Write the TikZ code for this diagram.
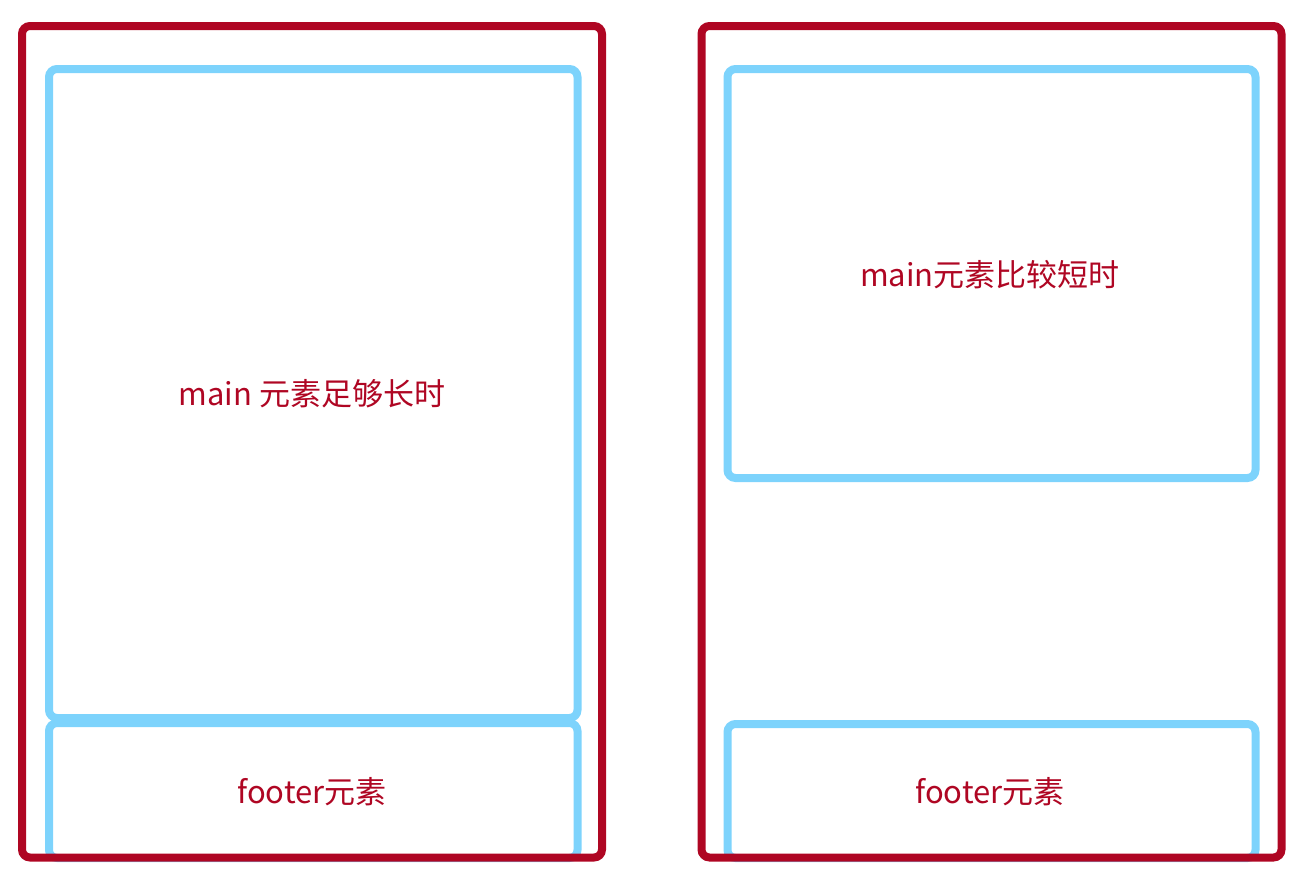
\documentclass[tikz,border=0pt]{standalone}
\usepackage{fontspec}
\setmainfont{Noto Sans CJK SC}
\definecolor{outerred}{HTML}{AF0623}
\definecolor{innerblue}{HTML}{7DD3FC}
\begin{document}
\begin{tikzpicture}[x=1pt,y=-1pt,
  outerbox/.style={draw=outerred,line width=8pt,rounded corners=8pt},
  innerbox/.style={draw=innerblue,line width=8pt,rounded corners=8pt},
  label/.style={text=outerred,font=\fontsize{31}{36}\selectfont,inner sep=0pt}]
\useasboundingbox (0,0) rectangle (1296,876);
% left panel
\draw[innerbox] (49,69) rectangle (577.5,718);
\draw[innerbox] (49,723) rectangle (577.5,858);
\draw[outerbox] (22,26) rectangle (602,857.5);
\node[label] (lmain) at (312,394) {main 元素足够长时};
\node[label] (lfoot) at (312,792) {footer元素};
% right panel
\draw[innerbox] (727.5,69) rectangle (1255.5,478);
\draw[innerbox] (727.5,724) rectangle (1255.5,858);
\draw[outerbox] (701.5,26) rectangle (1281.5,857.5);
\node[label] (rmain) at (990,275) {main元素比较短时};
\node[label] (rfoot) at (990,792) {footer元素};
\end{tikzpicture}
\end{document}
